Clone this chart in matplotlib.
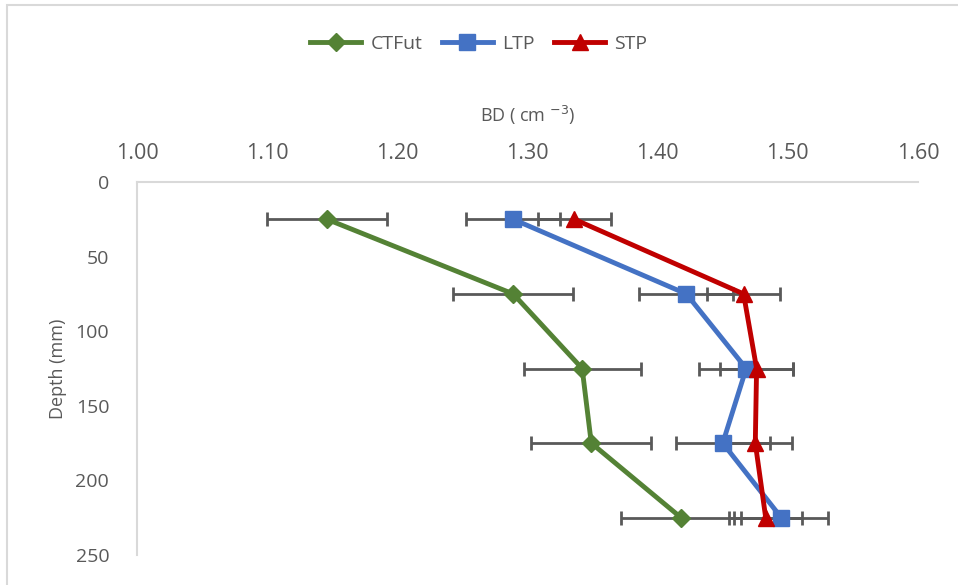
import matplotlib.pyplot as plt
from matplotlib.patches import Rectangle
from matplotlib.lines import Line2D

depth = [25, 75, 125, 175, 225]

ctfut = [1.146, 1.289, 1.342, 1.349, 1.418]
ltp = [1.289, 1.422, 1.468, 1.450, 1.495]
stp = [1.336, 1.466, 1.476, 1.475, 1.483]

ctfut_err = [0.046, 0.046, 0.045, 0.046, 0.046]
ltp_err = [0.036, 0.036, 0.036, 0.036, 0.036]
stp_err = [0.028, 0.028, 0.028, 0.028, 0.028]

x_ticks = [1.00, 1.10, 1.20, 1.30, 1.40, 1.50, 1.60]
y_ticks = [0, 50, 100, 150, 200, 250]

plt.rcParams['font.family'] = ['Open Sans', 'DejaVu Sans']
grey = "#595959"

W, H = 958, 585
fig = plt.figure(figsize=(W / 100, H / 100), dpi=100)
ax = fig.add_axes([137 / W, 1 - 555 / H, (918 - 137) / W, (555 - 182) / H])

# chart border
fig.patches.append(Rectangle((7 / W, -0.1), 1.2, 1 - 5 / H + 0.1, transform=fig.transFigure,
                             fill=False, edgecolor="#D9D9D9", linewidth=1.5))

series = [
    ("CTFut", ctfut, ctfut_err, "#548235", "D", 9),
    ("LTP", ltp, ltp_err, "#4472C4", "s", 12),
    ("STP", stp, stp_err, "#C00000", "^", 11),
]

for name, vals, err, col, mk, ms in series:
    ax.errorbar(vals, depth, xerr=err, fmt="none", ecolor=grey, elinewidth=2,
                capsize=5, capthick=2, zorder=2)
for name, vals, err, col, mk, ms in series:
    ax.plot(vals, depth, color=col, linewidth=3.5, marker=mk, markersize=ms,
            zorder=3, label=name)

ax.set_xlim(1.0, 1.6)
ax.set_ylim(250, 0)
ax.xaxis.tick_top()
ax.xaxis.set_label_position("top")
ax.set_xticks(x_ticks)
ax.set_xticklabels([f"{v:.2f}" for v in x_ticks])
ax.set_yticks(y_ticks)
ax.tick_params(axis="both", length=0, colors=grey)
ax.tick_params(axis="x", labelsize=15.5, pad=13)
ax.tick_params(axis="y", labelsize=14, pad=20)

for s in ["bottom", "right"]:
    ax.spines[s].set_visible(False)
for s in ["top", "left"]:
    ax.spines[s].set_color("#D9D9D9")
    ax.spines[s].set_linewidth(1.5)

ax.set_xlabel("BD ( cm $^{-3}$)", fontsize=13, color=grey, labelpad=15)
ax.set_ylabel("Depth (mm)", fontsize=13, color=grey, labelpad=6)

handles = [Line2D([], [], color=c, linewidth=3.5, marker=m, markersize=ms)
           for _, _, _, c, m, ms in series]
fig.legend(handles, [s[0] for s in series], loc="center", bbox_to_anchor=(0.5, 1 - 44 / H),
           ncol=3, frameon=False, fontsize=14, labelcolor=grey, handlelength=2.6,
           columnspacing=1.0, handletextpad=0.5)

fig.savefig("out.png", dpi=100)
